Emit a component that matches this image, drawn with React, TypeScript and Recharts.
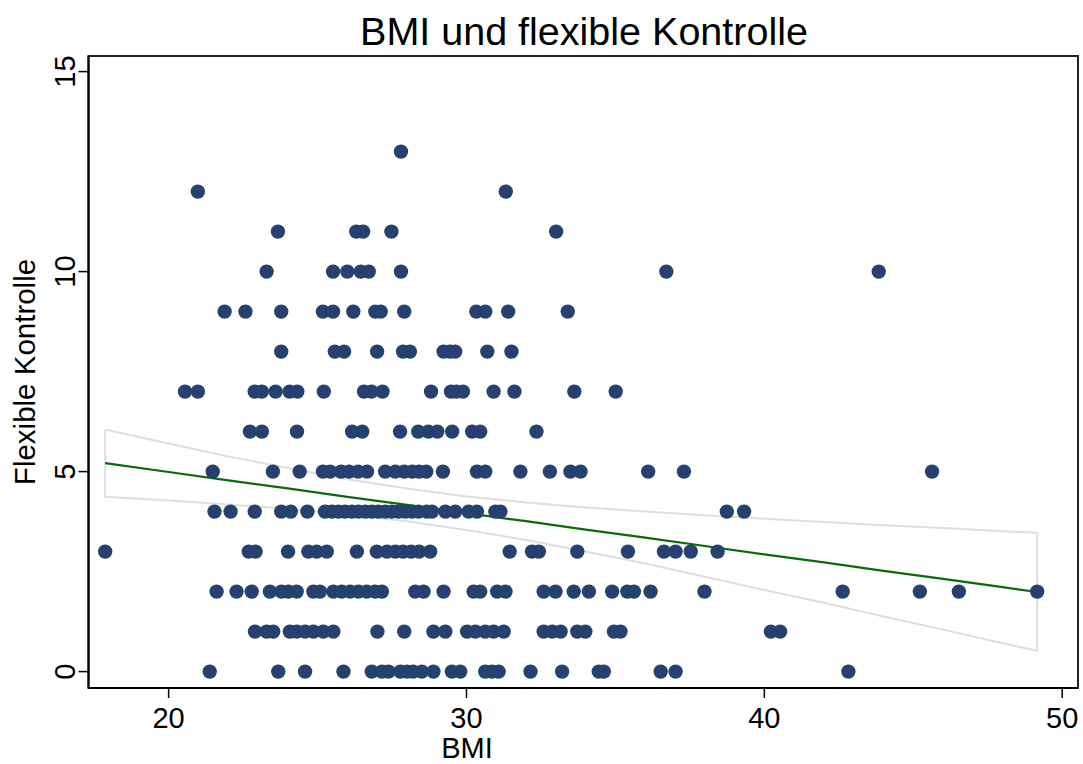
import React from 'react';
import { ComposedChart, Scatter, Line, XAxis, YAxis, ReferenceArea } from 'recharts';

const scoreLevels = [0, 1, 2, 3, 4, 5, 6, 7, 8, 9, 10, 11, 12, 13];

const bmiScore0 = [21.38, 23.68, 24.58, 25.87, 26.82, 27.16, 27.38, 27.78, 28.0, 28.21, 28.5, 28.89, 29.51, 29.79, 30.63, 30.86, 31.08, 32.15, 33.21, 34.44, 34.61, 36.52, 37.02, 42.82];
const bmiScore1 = [22.9, 23.29, 23.51, 24.07, 24.3, 24.58, 24.86, 25.19, 25.53, 27.01, 27.91, 28.89, 29.29, 30.02, 30.3, 30.63, 30.91, 31.25, 32.59, 32.88, 33.16, 33.72, 33.99, 34.95, 35.17, 40.22, 40.53];
const bmiScore2 = [21.61, 22.28, 22.79, 23.4, 23.79, 24.02, 24.3, 24.86, 25.08, 25.53, 25.81, 26.09, 26.37, 26.65, 26.93, 27.16, 28.28, 28.56, 29.23, 30.24, 30.46, 31.03, 31.31, 32.59, 32.99, 33.6, 34.11, 34.89, 35.4, 35.62, 36.18, 37.99, 42.63, 45.22, 46.53, 49.16];
const bmiScore3 = [17.87, 22.69, 22.92, 24.01, 24.69, 24.97, 25.31, 26.32, 26.99, 27.33, 27.61, 27.87, 28.14, 28.41, 28.78, 31.45, 32.2, 32.43, 33.72, 35.42, 36.63, 37.02, 37.53, 38.43];
const bmiScore4 = [21.54, 22.08, 22.89, 23.78, 24.1, 24.66, 25.25, 25.48, 25.7, 25.92, 26.15, 26.37, 26.6, 26.82, 27.04, 27.27, 27.49, 27.72, 27.94, 28.17, 28.39, 28.67, 28.84, 29.29, 29.62, 30.07, 30.35, 30.97, 31.14, 38.74, 39.32];
const bmiScore5 = [21.48, 23.5, 24.4, 25.18, 25.42, 25.79, 26.06, 26.36, 26.66, 27.27, 27.61, 27.91, 28.18, 28.41, 28.65, 29.21, 30.35, 30.63, 31.81, 32.8, 33.49, 33.83, 36.1, 37.3, 45.63];
const bmiScore6 = [22.73, 23.13, 24.31, 26.16, 26.5, 27.77, 28.38, 28.72, 29.02, 29.52, 30.19, 30.46, 32.35];
const bmiScore7 = [20.55, 20.98, 22.89, 23.13, 23.59, 24.06, 24.32, 25.21, 26.56, 26.81, 27.18, 28.81, 29.48, 29.66, 29.88, 30.91, 31.61, 33.62, 35.01];
const bmiScore8 = [23.78, 25.58, 25.89, 27.0, 27.87, 28.1, 29.23, 29.45, 29.62, 30.7, 31.51];
const bmiScore9 = [21.88, 22.58, 23.78, 25.18, 25.52, 26.2, 26.94, 27.12, 27.91, 30.33, 30.63, 31.4, 33.4];
const bmiScore10 = [23.29, 25.52, 26.0, 26.45, 26.72, 27.8, 36.71, 43.84];
const bmiScore11 = [23.67, 26.3, 26.53, 27.48, 33.01];
const bmiScore12 = [20.98, 31.32];
const bmiScore13 = [27.8];

const bmiByScore = [bmiScore0, bmiScore1, bmiScore2, bmiScore3, bmiScore4, bmiScore5, bmiScore6, bmiScore7, bmiScore8, bmiScore9, bmiScore10, bmiScore11, bmiScore12, bmiScore13];

const fitBmi = [17.87, 20, 22, 24, 26, 28, 30, 32, 34, 36, 38, 40, 42, 44, 46, 48, 49.16];
const fitValue = [5.21, 4.99, 4.78, 4.58, 4.37, 4.17, 3.96, 3.76, 3.55, 3.35, 3.14, 2.93, 2.73, 2.52, 2.32, 2.11, 1.99];
const ciUpper = [6.05, 5.7, 5.38, 5.09, 4.81, 4.58, 4.38, 4.23, 4.1, 4.0, 3.91, 3.82, 3.74, 3.66, 3.59, 3.51, 3.47];
const ciLower = [4.37, 4.28, 4.18, 4.07, 3.93, 3.76, 3.54, 3.29, 3.0, 2.7, 2.37, 2.04, 1.72, 1.38, 1.05, 0.71, 0.52];

const xTicks = [20, 30, 40, 50];
const yTicks = [0, 5, 10, 15];

const X_DOMAIN: [number, number] = [17.31, 50.53];
const Y_DOMAIN: [number, number] = [-0.41, 15.39];

const points = scoreLevels.flatMap((s, i) => bmiByScore[i].map((b) => ({ x: b, y: s })));
const fitLine = fitBmi.map((x, i) => ({ x, y: fitValue[i] }));
const ciOutline = [
  ...fitBmi.map((x, i) => ({ x, y: ciUpper[i] })),
  ...fitBmi.map((x, i) => ({ x, y: ciLower[i] })).reverse(),
  { x: fitBmi[0], y: ciUpper[0] },
];

const FONT = '"Liberation Sans", Arial, Helvetica, sans-serif';

const Dot = (props: any) => {
  const { cx, cy } = props;
  if (cx == null || cy == null) return null;
  return <circle cx={cx} cy={cy} r={7.2} fill="#26406f" />;
};

const XTick = (props: any) => {
  const { x, payload } = props;
  return (
    <text x={x} y={728} textAnchor="middle" fontSize={29} fontFamily={FONT} fill="#000">
      {payload.value}
    </text>
  );
};

const YTick = (props: any) => {
  const { y, payload } = props;
  const bx = 75.5;
  return (
    <text x={bx} y={y} transform={`rotate(-90, ${bx}, ${y})`} textAnchor="middle" fontSize={29} fontFamily={FONT} fill="#000">
      {payload.value}
    </text>
  );
};

export default function App() {
  const W = 1083;
  const H = 764;
  return (
    <div style={{ position: 'absolute', left: 0, top: 0, width: W, height: H, background: '#fff', overflow: 'hidden' }}>
      <ComposedChart width={W} height={H} margin={{ top: 56, right: 5, bottom: 0, left: 0 }}>
        <XAxis
          type="number"
          dataKey="x"
          domain={X_DOMAIN}
          ticks={xTicks}
          allowDataOverflow
          height={76}
          tickSize={10}
          tickLine={{ stroke: '#000', strokeWidth: 1.5 }}
          axisLine={{ stroke: '#000', strokeWidth: 2 }}
          tick={<XTick />}
        />
        <YAxis
          type="number"
          dataKey="y"
          domain={Y_DOMAIN}
          ticks={yTicks}
          allowDataOverflow
          width={88.5}
          tickSize={10}
          tickLine={{ stroke: '#000', strokeWidth: 1.5 }}
          axisLine={{ stroke: '#000', strokeWidth: 2 }}
          tick={<YTick />}
        />
        <ReferenceArea
          x1={X_DOMAIN[0]}
          x2={X_DOMAIN[1]}
          y1={Y_DOMAIN[0]}
          y2={Y_DOMAIN[1]}
          fill="none"
          fillOpacity={0}
          stroke="#222"
          strokeWidth={2}
          ifOverflow="visible"
        />
        <Line
          data={ciOutline}
          dataKey="y"
          type="linear"
          stroke="#dedede"
          strokeWidth={2}
          dot={false}
          activeDot={false}
          isAnimationActive={false}
        />
        <Scatter data={points} dataKey="y" shape={<Dot />} isAnimationActive={false} />
        <Line
          data={fitLine}
          dataKey="y"
          type="linear"
          stroke="#0a6a0a"
          strokeWidth={2.2}
          dot={false}
          activeDot={false}
          isAnimationActive={false}
        />
      </ComposedChart>
      <svg width={W} height={H} style={{ position: 'absolute', left: 0, top: 0, pointerEvents: 'none' }}>
        <text x={584} y={45} textAnchor="middle" fontSize={39.5} fontFamily={FONT} fill="#000">
          BMI und flexible Kontrolle
        </text>
        <text x={467} y={758} textAnchor="middle" fontSize={29} fontFamily={FONT} fill="#000">
          BMI
        </text>
        <text x={35} y={372} transform="rotate(-90, 35, 372)" textAnchor="middle" fontSize={29.5} fontFamily={FONT} fill="#000">
          Flexible Kontrolle
        </text>
      </svg>
    </div>
  );
}
